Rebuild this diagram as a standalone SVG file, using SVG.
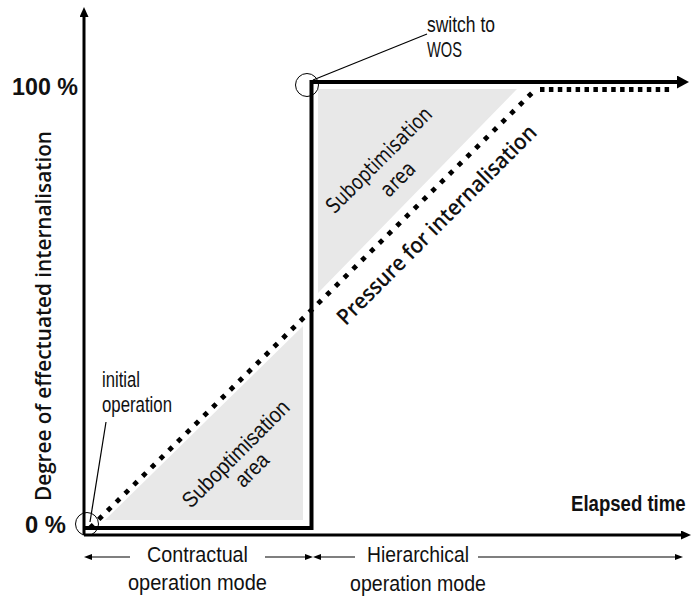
<svg xmlns="http://www.w3.org/2000/svg" width="694" height="599" viewBox="0 0 694 599">
<style>
.ax{stroke:#000;stroke-width:3;fill:none}
.step{stroke:#000;stroke-width:4;fill:none}
.dot{stroke:#000;stroke-width:4.8;fill:none;stroke-linecap:butt}
.thin{stroke:#000;stroke-width:1.2;fill:none}
.ring{stroke:#000;stroke-width:1;fill:none}
.area{fill:#e8e8e8;stroke:none}
text{fill:#111}
.n{font-family:"Liberation Sans Narrow","Liberation Sans",Arial,sans-serif;font-size:22px}
.b{font-family:"Liberation Sans",Arial,sans-serif;font-weight:bold;font-size:23px}
.nb{font-family:"Liberation Sans",Arial,sans-serif;font-weight:bold;font-size:22px}
.t{font-family:"DejaVu Sans",Tahoma,Verdana,sans-serif;font-size:21px}
.tb{font-family:"Open Sans","DejaVu Sans",Tahoma,sans-serif;font-size:22px;font-weight:600}
</style>
<defs>
<marker id="big" viewBox="0 -6.5 12 13" refX="0" refY="0" markerWidth="12" markerHeight="13" markerUnits="userSpaceOnUse" orient="auto"><path d="M0,-6.5 L12,0 L0,6.5 Z" fill="#000"/></marker>
<marker id="axh" viewBox="0 -4.5 10 9" refX="0" refY="0" markerWidth="10" markerHeight="9" markerUnits="userSpaceOnUse" orient="auto"><path d="M0,-4.5 L10,0 L0,4.5 Z" fill="#000"/></marker>
<marker id="sm" viewBox="0 -3 8 6" refX="0" refY="0" markerWidth="8" markerHeight="6" markerUnits="userSpaceOnUse" orient="auto"><path d="M0,-3 L8,0 L0,3 Z" fill="#000"/></marker>
</defs>

<g id="areas">
<polygon class="area" points="318,89 517,89 318,293"/>
<polygon class="area" points="105,520 303,520 303,326"/>
</g>

<g id="connectors">
<path id="y-axis" class="ax" d="M84,535 V17" marker-end="url(#axh)"/>
<path id="x-axis" class="ax" d="M84,535 H681" marker-end="url(#axh)"/>
<path id="effectuated" class="step" d="M84,528 H311.5 V82 H677" marker-end="url(#big)"/>
<path id="pressure-diag" class="dot" d="M90,528 L536,89" stroke-dasharray="4.8 7.5"/>
<path id="pressure-flat" class="dot" d="M540,89.5 H672" stroke-dasharray="4.5 4.4"/>
<line class="thin" x1="313" y1="80" x2="427" y2="34"/>
<line class="thin" x1="106" y1="422" x2="90" y2="522"/>
<path class="thin" d="M130,557 H92" marker-end="url(#sm)"/>
<path class="thin" d="M265,557 H305" marker-end="url(#sm)"/>
<path class="thin" d="M355,557 H321" marker-end="url(#sm)"/>
<path class="thin" d="M478,557 H675" marker-end="url(#sm)"/>
</g>

<g id="switch-wos">
<circle class="ring" cx="307" cy="85" r="11.5"/>
<text class="n" x="427" y="32" textLength="68" lengthAdjust="spacingAndGlyphs">switch to</text>
<text class="n" x="427" y="57" textLength="35" lengthAdjust="spacingAndGlyphs">WOS</text>
</g>

<g id="initial-operation">
<circle class="ring" cx="87" cy="524" r="11.5"/>
<text class="n" x="102" y="387" textLength="38" lengthAdjust="spacingAndGlyphs">initial</text>
<text class="n" x="102" y="412" textLength="70" lengthAdjust="spacingAndGlyphs">operation</text>
</g>

<g id="axis-labels">
<text class="b" x="12" y="95" textLength="66" lengthAdjust="spacingAndGlyphs">100 %</text>
<text class="b" x="25" y="533" textLength="41" lengthAdjust="spacingAndGlyphs">0 %</text>
<text class="nb" transform="translate(571,511) scale(0.845,1)">Elapsed time</text>
<text class="tb" transform="translate(51,316) rotate(-90)" text-anchor="middle" textLength="370" lengthAdjust="spacingAndGlyphs">Degree of effectuated internalisation</text>
</g>

<g id="upper-area-label">
<text class="t" transform="translate(384,165) rotate(-45)" text-anchor="middle" textLength="140" lengthAdjust="spacingAndGlyphs">Suboptimisation</text>
<text class="t" transform="translate(403,184) rotate(-45)" text-anchor="middle" textLength="40" lengthAdjust="spacingAndGlyphs">area</text>
</g>

<g id="lower-area-label">
<text class="n" transform="translate(241,459) rotate(-45)" text-anchor="middle" textLength="142" lengthAdjust="spacingAndGlyphs">Suboptimisation</text>
<text class="n" transform="translate(257,475) rotate(-45)" text-anchor="middle" textLength="38" lengthAdjust="spacingAndGlyphs">area</text>
</g>

<g id="pressure-label">
<text class="tb" transform="translate(442,230) rotate(-45)" text-anchor="middle" textLength="272" lengthAdjust="spacingAndGlyphs">Pressure for internalisation</text>
</g>

<g id="mode-labels">
<text class="n" x="147" y="562" textLength="101" lengthAdjust="spacingAndGlyphs">Contractual</text>
<text class="n" x="128" y="590" textLength="139" lengthAdjust="spacingAndGlyphs">operation mode</text>
<text class="n" x="367" y="562" textLength="102" lengthAdjust="spacingAndGlyphs">Hierarchical</text>
<text class="n" x="350" y="591" textLength="136" lengthAdjust="spacingAndGlyphs">operation mode</text>
</g>
</svg>
